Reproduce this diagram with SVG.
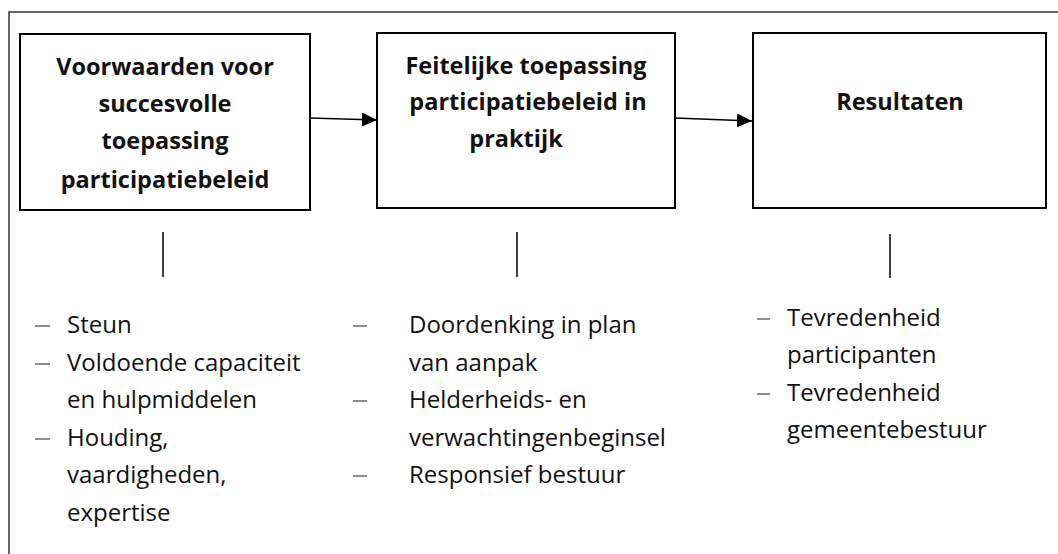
<svg xmlns="http://www.w3.org/2000/svg" width="1058" height="554" viewBox="0 0 1058 554">
<style>
.frame{fill:none;stroke:#333;stroke-width:1.5}
.box{fill:#fff;stroke:#000;stroke-width:2}
.hd{font-family:"Open Sans","Noto Sans",sans-serif;font-weight:bold;font-size:23.5px;fill:#111;text-anchor:middle}
.li{font-family:"Open Sans","Noto Sans",sans-serif;font-size:24px;fill:#111}
.dash{stroke:#444;stroke-width:1.2}
.conn{stroke:#000;stroke-width:1.5;fill:none}
</style>
<defs>
<marker id="ah" markerWidth="16" markerHeight="14" refX="15" refY="7" orient="auto" markerUnits="userSpaceOnUse">
<path d="M0,0 L15,7 L0,14 Z" fill="#000"/>
</marker>
</defs>
<rect width="1058" height="554" fill="#fff"/>
<rect class="frame" x="9" y="12" width="1060" height="560"/>
<g id="node-voorwaarden">
<rect class="box" x="20" y="34" width="290" height="176"/>
<text class="hd" x="165" y="75">Voorwaarden voor</text>
<text class="hd" x="165" y="112">succesvolle</text>
<text class="hd" x="165" y="149">toepassing</text>
<text class="hd" x="165" y="188">participatiebeleid</text>
</g>
<g id="node-feitelijk">
<rect class="box" x="377" y="33" width="298" height="175"/>
<text class="hd" x="526" y="74">Feitelijke toepassing</text>
<text class="hd" x="528" y="110">participatiebeleid in</text>
<text class="hd" x="516" y="147">praktijk</text>
</g>
<g id="node-resultaten">
<rect class="box" x="753" y="33" width="293" height="175"/>
<text class="hd" x="900" y="110">Resultaten</text>
</g>
<g id="connectors">
<line class="conn" x1="310" y1="118" x2="377" y2="120" marker-end="url(#ah)"/>
<line class="conn" x1="675" y1="118" x2="752" y2="121" marker-end="url(#ah)"/>
<line class="conn" x1="163" y1="232" x2="163" y2="277"/>
<line class="conn" x1="517" y1="232" x2="517" y2="277"/>
<line class="conn" x1="890" y1="234" x2="890" y2="278"/>
</g>
<g id="list-voorwaarden">
<line class="dash" x1="35" y1="326" x2="50" y2="326"/>
<text class="li" x="67" y="333">Steun</text>
<line class="dash" x1="35" y1="364" x2="50" y2="364"/>
<text class="li" x="67" y="371">Voldoende capaciteit</text>
<text class="li" x="67" y="408">en hulpmiddelen</text>
<line class="dash" x1="35" y1="439" x2="50" y2="439"/>
<text class="li" x="67" y="446">Houding,</text>
<text class="li" x="67" y="483">vaardigheden,</text>
<text class="li" x="67" y="521">expertise</text>
</g>
<g id="list-feitelijk">
<line class="dash" x1="353" y1="326" x2="367" y2="326"/>
<text class="li" x="409" y="333">Doordenking in plan</text>
<text class="li" x="409" y="371">van aanpak</text>
<line class="dash" x1="353" y1="401" x2="367" y2="401"/>
<text class="li" x="409" y="408">Helderheids- en</text>
<text class="li" x="409" y="446">verwachtingenbeginsel</text>
<line class="dash" x1="353" y1="476" x2="367" y2="476"/>
<text class="li" x="409" y="483">Responsief bestuur</text>
</g>
<g id="list-resultaten">
<line class="dash" x1="757" y1="319" x2="770" y2="319"/>
<text class="li" x="787" y="326">Tevredenheid</text>
<text class="li" x="787" y="363">participanten</text>
<line class="dash" x1="757" y1="394" x2="770" y2="394"/>
<text class="li" x="787" y="401">Tevredenheid</text>
<text class="li" x="787" y="438">gemeentebestuur</text>
</g>
</svg>
